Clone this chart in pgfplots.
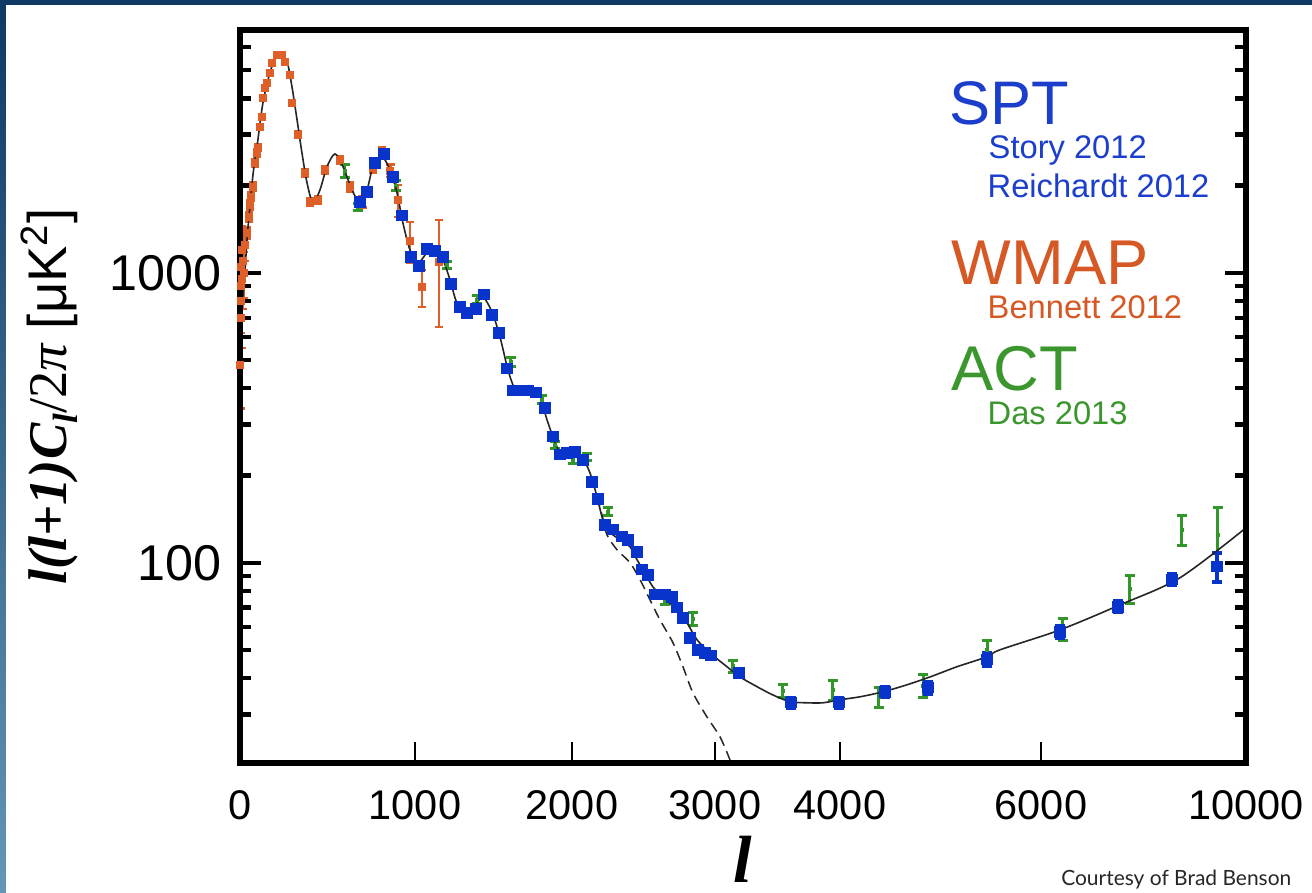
\documentclass[border=0pt]{standalone}
\usepackage{pgfplots}
\usepackage{pgfplotstable}
\pgfplotsset{compat=1.18}
\usepackage{fontspec}
\setmainfont{Liberation Sans}
\newfontfamily\serif{Liberation Serif}
\newfontfamily\gill{Lato}
\definecolor{sptblue}{RGB}{8,52,204}
\definecolor{spttext}{RGB}{28,62,205}
\definecolor{wmaporange}{RGB}{222,96,40}
\definecolor{wmaptext}{RGB}{214,88,36}
\definecolor{actgreen}{RGB}{50,150,40}
\definecolor{acttext}{RGB}{58,150,45}
\definecolor{navy}{RGB}{14,58,100}
\definecolor{steel}{RGB}{100,150,182}

\pgfplotstableread{
l v
2 1050
6 880
12 820
19 853
30 1050
42 1350
57 1689
75 2200
97 2720
131 3857
171 4895
200 5450
229 5646
269 5341
297 4380
326 3370
354 2593
383 2043
417 1743
457 1933
497 2320
543 2571
589 2320
640 1933
686 1743
726 1933
760 2320
811 2512
857 2265
897 1888
931 1487
971 1200
1019 1083
1076 1172
1127 1200
1178 1109
1223 946
1267 788
1331 728
1395 788
1433 827
1490 734
1541 602
1592 463
1637 395
1669 389
1732 395
1796 380
1841 311
1924 239
2007 232
2077 227
2126 204
2175 169
2210 144
2245 130
2336 120
2406 113.5
2455 102.4
2497 94.6
2566 82.6
2636 76.3
2734 68.8
2804 62.1
2874 54.3
2965 48.9
3096 43.8
3200 40.4
3336 37.4
3464 35.0
3600 33.2
3736 32.9
3864 32.9
4000 33.7
4199 34.5
4428 35.9
4667 37.96
4896 40.4
5164 43.8
5463 47.4
5592 50.1
6371 58.7
7541 71.6
8712 88.8
10000 132
}\theory

\pgfplotstableread{
l v
2175 169
2210 146
2245 124.8
2315 110.9
2406 100
2476 87.4
2545 74.6
2615 63.6
2706 53.0
2776 43.8
2846 35.6
2944 29.4
3040 25.1
3120 20.9
3160 18.5
}\primary

\pgfplotstableread{
l v e
2 480 140
3 900 400
4 700 300
6 1050 300
8 800 250
11 1200 250
14 950 200
18 1100 200
24 1000 180
30 1250 150
40 1374 60
51 1560 60
57 1716 60
63 1829 60
74 1980 65
86 2395 70
97 2593 70
103 2698 70
114 3186 75
126 3451 75
131 4000 80
143 4345 80
154 4521 80
171 4895 85
183 5298 90
211 5646 90
240 5646 90
257 5341 90
286 4818 90
297 3857 85
331 2991 75
371 2212 60
400 1757 55
446 1785 55
486 2265 60
571 2453 70
629 1980 70
700 1760 80
760 2300 90
811 2620 100
860 2250 110
903 1786 225
971 1291 208
1045 893 130
1153 1087 436
}\wmap

\pgfplotstableread{
l v e
600 2250 120
674 1690 45
890 2000 80
1204 1066 30
1395 807 25
1611 493 18
1809 365 12
1892 255 8
2007 226.5 7
2105 232 7
2252 150 5
2650 74.6 3
2846 64.1 3.1
3144 44.1 2.1
3544 36.2 1.9
3944 36.5 2.9
4388 34.5 2.75
4826 37.7 3.4
5463 50.1 4
6429 59.2 5.2
7736 81.4 9
8750 130 15.5
9453 124.9 30
}\act

\pgfplotstableread{
l v e
686 1757 45
726 1902 45
771 2395 50
823 2572 55
874 2143 50
926 1573 40
977 1135 30
1025 1057 28
1076 1210 28
1127 1191 28
1178 1135 26
1229 916 22
1287 763 18
1331 728 17
1389 751 17
1439 840 18
1490 716 16
1535 621 14
1586 467 11
1624 392 9
1669 392 9
1720 392 9
1771 386 9
1828 342 8
1879 272 6
1924 236 5
1968 239 5
2021 241 5
2077 226 5
2140 190 4
2182 166 4
2231 135 3
2287 130 3
2350 123 3
2392 120 3
2455 109.1 2.5
2490 94.6 2.2
2532 90.9 2
2580 77.6 1.8
2650 77.6 1.8
2699 76.3 1.7
2734 70.0 1.6
2776 64.6 1.5
2825 55.1 1.4
2881 50.1 1.3
2930 48.9 1.3
2972 47.8 1.3
3192 41.7 1.2
3608 32.9 1.3
3992 32.9 1.3
4448 35.9 1.5
4876 37.1 1.8
5463 46.3 2.5
6371 57.8 2.8
7502 70.5 3.2
8556 87.4 4
9434 97 11
}\spt

\begin{document}
\begin{tikzpicture}
\useasboundingbox (0,0) rectangle (131.2mm,89.3mm);
\fill[white] (0,0) rectangle (131.2mm,89.3mm);
\fill[navy] (0,88.8mm) rectangle (131.2mm,89.3mm);
\shade[top color=navy, bottom color=steel] (0,0) rectangle (0.6mm,88.8mm);
\begin{axis}[
  at={(24mm,13mm)}, anchor=south west,
  scale only axis, width=100.6mm, height=73.3mm,
  x coord trafo/.code={\pgfmathparse{(#1<=1000)?(#1*0.175):((#1<=2000)?(175+(#1-1000)*0.157):((#1<=3000)?(332+(#1-2000)*0.143):((#1<=4000)?(475+(#1-3000)*0.125):((#1<=6000)?(600+(#1-4000)*0.1005):(801+(#1-6000)*0.05125)))))}},
  xmin=0, xmax=10000,
  ymode=log, ymin=20.4, ymax=6880,
  xtick={0,1000,2000,3000,4000,6000,10000},
  xticklabels={0,1000,2000,3000,4000,6000,10000},
  ytick={100,1000}, yticklabels={100,1000},
  minor ytick={30,40,50,60,70,80,90,200,300,400,500,600,700,800,900,2000,3000,4000,5000,6000},
  tick align=inside,
  xtick pos=left,
  major tick length=2.1mm, minor tick length=1.1mm,
  xtick style={line width=0.2mm, black, shorten >=0.9mm},
  ytick style={line width=0.45mm, black},
  every minor tick/.append style={line width=0.4mm},
  axis line style={line width=0.6mm, line cap=rect},
  axis on top,
  xticklabel style={anchor=north, inner sep=0pt, yshift=-2.7mm, font=\fontsize{11.8pt}{12pt}\selectfont},
  yticklabel style={anchor=east, inner sep=0pt, xshift=-1.8mm, font=\fontsize{14.3pt}{15pt}\selectfont},
]
\addplot[only marks, mark=square*, mark size=0.33mm, color=wmaporange,
  error bars/.cd, y dir=both, y explicit,
  error bar style={line width=0.25mm, wmaporange},
  error mark options={rotate=90, line width=0.25mm, mark size=0.42mm, wmaporange}]
  table[x=l, y=v, y error=e] {\wmap};
\addplot[only marks, mark=square*, mark size=0.12mm, color=actgreen,
  error bars/.cd, y dir=both, y explicit,
  error bar style={line width=0.3mm, actgreen},
  error mark options={rotate=90, line width=0.3mm, mark size=0.5mm, actgreen}]
  table[x=l, y=v, y error=e] {\act};
\addplot[only marks, mark=square*, mark size=0.5mm, color=sptblue,
  error bars/.cd, y dir=both, y explicit,
  error bar style={line width=0.35mm, sptblue},
  error mark options={rotate=90, line width=0.35mm, mark size=0.52mm, sptblue}]
  table[x=l, y=v, y error=e] {\spt};
\addplot[smooth, black!85, line width=0.16mm] table[x=l, y=v] {\theory};
\addplot[smooth, black!85, line width=0.15mm, dash pattern=on 1mm off 0.6mm] table[x=l, y=v] {\primary};
\end{axis}
% axis labels
\node[rotate=90, anchor=base, inner sep=0pt] at (6.6mm,49.65mm)
  {\fontsize{15.5pt}{16pt}\selectfont{\serif\bfseries\itshape l(l+1)C\raisebox{-0.22em}{\fontsize{10pt}{10pt}\selectfont l}}{\serif /2\itshape π} [μK\textsuperscript{2}]};
\node[anchor=base, inner sep=0pt] at (74.3mm,1.0mm) {\fontsize{19pt}{19pt}\selectfont\serif\bfseries\itshape l};
% legend texts
\node[anchor=base west, inner sep=0pt, text=spttext] at (94.9mm,76.8mm) {\fontsize{17.5pt}{18pt}\selectfont SPT};
\node[anchor=base west, inner sep=0pt, text=spttext] at (98.8mm,73.4mm) {\fontsize{9.3pt}{10pt}\selectfont Story 2012};
\node[anchor=base west, inner sep=0pt, text=spttext] at (98.7mm,69.5mm) {\fontsize{9.3pt}{10pt}\selectfont Reichardt 2012};
\node[anchor=base west, inner sep=0pt, text=wmaptext] at (95.1mm,60.8mm) {\fontsize{18pt}{18pt}\selectfont WMAP};
\node[anchor=base west, inner sep=0pt, text=wmaptext] at (98.7mm,57.4mm) {\fontsize{9.3pt}{10pt}\selectfont Bennett 2012};
\node[anchor=base west, inner sep=0pt, text=acttext] at (95.1mm,50.2mm) {\fontsize{18pt}{18pt}\selectfont ACT};
\node[anchor=base west, inner sep=0pt, text=acttext] at (98.7mm,46.8mm) {\fontsize{9.3pt}{10pt}\selectfont Das 2013};
\node[anchor=base east, inner sep=0pt, text=black!85] at (129.2mm,0.7mm) {\resizebox{23mm}{!}{\gill Courtesy of Brad Benson}};
\end{tikzpicture}
\end{document}
